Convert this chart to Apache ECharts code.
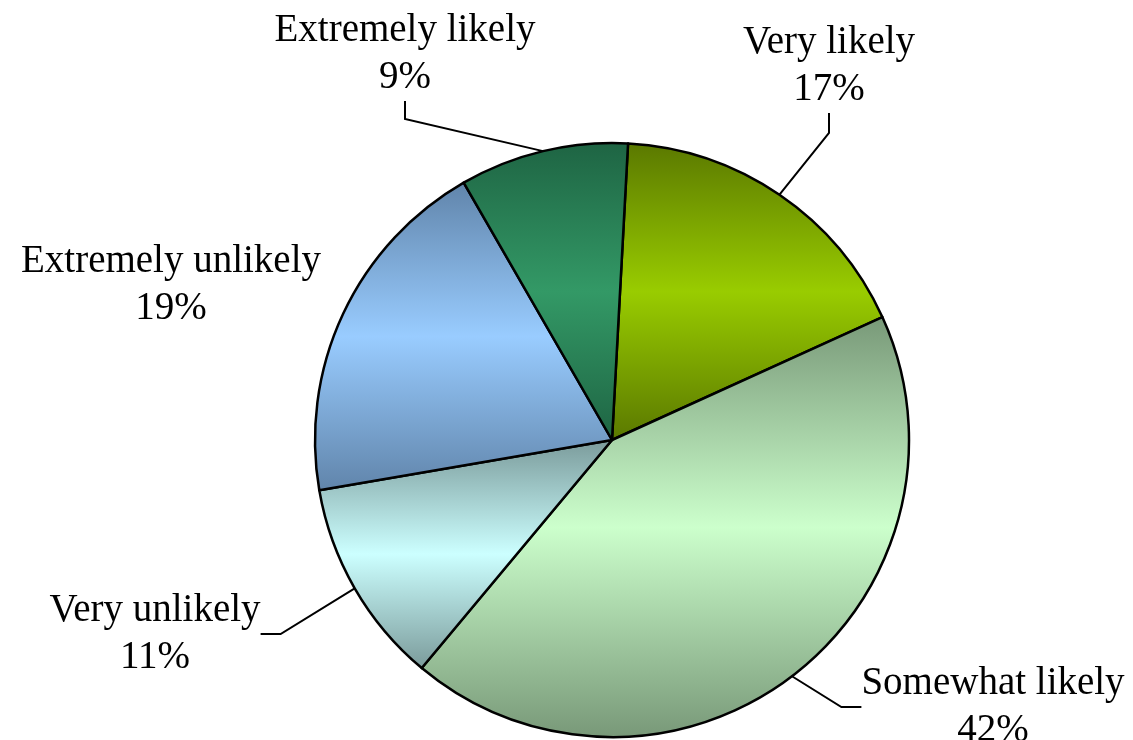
<!DOCTYPE html>
<html>
<head>
<meta charset="utf-8">
<title>Likelihood</title>
<script src="https://cdn.jsdelivr.net/npm/echarts@6/dist/echarts.min.js"></script>
<style>
  html, body { margin: 0; padding: 0; background: #ffffff; }
  #chart { width: 1133px; height: 740px; }
</style>
</head>
<body>
<div id="chart"></div>
<script>
// Survey answers, listed clockwise from the top of the pie
const categories = ['Very likely', 'Somewhat likely', 'Very unlikely', 'Extremely unlikely', 'Extremely likely'];
const percentages = [17, 42, 11, 19, 9];

// Shading per slice: [edge tone, middle tone]
const sliceTones = [
  ['#5a7800', '#99cc00'],
  ['#789878', '#ccffcc'],
  ['#7a9a9a', '#ccffff'],
  ['#6084aa', '#99ccff'],
  ['#1e6443', '#339966']
];

// Where each label block is centred
const labelSpots = [
  [829, 66],
  [993, 707],
  [155, 634],
  [171, 285],
  [405, 54]
];

// Only these slices get a leader line
const showLeader = [true, true, true, false, true];

function shade(tones) {
  return new echarts.graphic.LinearGradient(0, 0, 0, 1, [
    { offset: 0, color: tones[0] },
    { offset: 0.5, color: tones[1] },
    { offset: 1, color: tones[0] }
  ]);
}

const chart = echarts.init(document.getElementById('chart'), null, { renderer: 'canvas' });

chart.setOption({
  animation: false,
  backgroundColor: '#ffffff',
  series: [{
    type: 'pie',
    center: [612, 440],
    radius: 297,
    startAngle: 86.9,
    clockwise: true,
    avoidLabelOverlap: false,
    itemStyle: { borderColor: '#000000', borderWidth: 2.5 },
    label: {
      show: true,
      position: 'outside',
      formatter: '{b}\n{c}%',
      fontFamily: 'Liberation Serif',
      fontSize: 39,
      lineHeight: 47,
      color: '#000000'
    },
    labelLine: {
      show: true,
      length: 15,
      length2: 20,
      lineStyle: { color: '#000000', width: 2 }
    },
    labelLayout: function (params) {
      const spot = labelSpots[params.dataIndex];
      return { x: spot[0], y: spot[1], align: 'center', verticalAlign: 'middle' };
    },
    emphasis: { disabled: true },
    data: categories.map(function (name, i) {
      const item = {
        name: name,
        value: percentages[i],
        itemStyle: { color: shade(sliceTones[i]) },
        labelLine: { show: showLeader[i] }
      };
      if (name === 'Extremely likely') {
        // wide invisible box so the leader leaves from the bottom edge
        item.label = { backgroundColor: 'transparent', padding: [0, 160, 0, 160] };
        item.labelLine.length2 = 18;
      }
      return item;
    })
  }]
});
</script>
</body>
</html>
